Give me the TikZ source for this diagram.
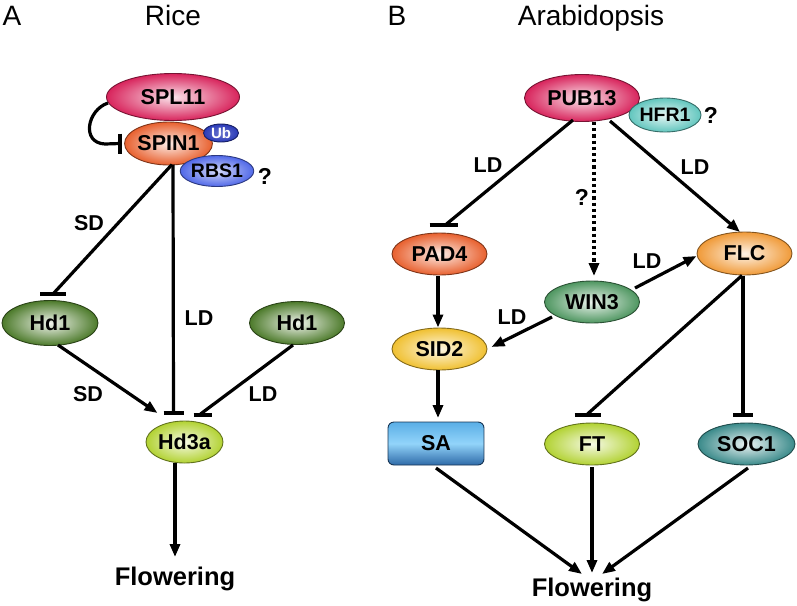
\documentclass[tikz,border=0pt]{standalone}
\usepackage{fontspec}
\setmainfont{Liberation Sans}
\usetikzlibrary{shapes.geometric,arrows.meta,calc}
\definecolor{cSPL}{HTML}{D8245C}
\definecolor{cSPIN}{HTML}{E8602E}
\definecolor{cUb}{HTML}{2A3AB8}
\definecolor{cRBS}{HTML}{5068E8}
\definecolor{cHd}{HTML}{4C7A2A}
\definecolor{cHda}{HTML}{B2D232}
\definecolor{cHFR}{HTML}{62C6BE}
\definecolor{cWIN}{HTML}{4E9660}
\definecolor{cSID}{HTML}{F0C030}
\definecolor{cFLC}{HTML}{F09A38}
\definecolor{cSOC}{HTML}{3A8A8A}
\definecolor{cSAt}{HTML}{5AAEE6}
\definecolor{cSAm}{HTML}{92D4FA}
\definecolor{cSAb}{HTML}{2E6AA8}
\begin{document}
\begin{tikzpicture}[x=1pt,y=-1pt,
  gene/.style={ellipse, draw=#1!55!black, line width=0.9pt, inner sep=0pt,
    inner color=#1!12!white, outer color=#1,
    font=\fontsize{21.5}{24}\selectfont\bfseries},
  conn/.style={line width=3.2pt},
  arr/.style={conn, -{Triangle[length=13pt,width=10pt]}},
  barln/.style={line width=4pt},
  dotln/.style={line width=3.2pt, dash pattern=on 3.2pt off 3pt, -{Triangle[length=13pt,width=10pt]}},
  lbl/.style={font=\fontsize{21.5}{24}\selectfont\bfseries, inner sep=0pt},
  qm/.style={font=\fontsize{23}{24}\selectfont\bfseries, inner sep=0pt},
  ttl/.style={font=\fontsize{28}{30}\selectfont, inner sep=0pt, anchor=base},
  flw/.style={font=\fontsize{25.5}{28}\selectfont\bfseries, inner sep=0pt}
]
\useasboundingbox (0,0) rectangle (797,605);

% ---------- titles
\node[ttl] (tA) at (12,25) {A};
\node[ttl] (tRice) at (173,25) {Rice};
\node[ttl] (tB) at (397,25) {B};
\node[ttl] (tAra) at (591,25) {Arabidopsis};

% ---------- panel A nodes
\node[gene=cSPL, minimum width=133pt, minimum height=47pt] (spl11) at (173,97) {SPL11};
\node[gene=cSPIN, minimum width=87pt, minimum height=43pt] (spin1) at (168.5,143.5) {SPIN1};
\node[gene=cUb, minimum width=35pt, minimum height=18pt, inner color=cUb!70!white,
      font=\fontsize{15}{16}\selectfont\bfseries, text=white] (ub) at (221,133) {Ub};
\node[gene=cRBS, minimum width=71pt, minimum height=31pt, inner color=cRBS!25!white,
      font=\fontsize{19.5}{22}\selectfont\bfseries] (rbs1) at (217,171) {RBS1};
\node[qm] (qA) at (265,176) {?};
\node[gene=cHd, minimum width=96pt, minimum height=45pt, inner color=cHd!8!white] (hd1l) at (50,323) {Hd1};
\node[gene=cHd, minimum width=95pt, minimum height=43pt, inner color=cHd!8!white] (hd1r) at (297,323) {Hd1};
\node[gene=cHda, minimum width=77pt, minimum height=42pt] (hd3a) at (184.5,442) {Hd3a};
\node[flw] (flA) at (175,579) {Flowering};

% self inhibition of SPIN1 by SPL11
\coordinate (bs) at ($(spin1)+(-48.5,0)$);
\draw[conn] ($(spl11)+(-65,6)$) .. controls ($(spl11)+(-86,13)$) and ($(spl11)+(-92,46)$) .. ($(spl11)+(-68,47)$) -- (bs);
\draw[barln] ($(bs)+(0,-10)$) -- ($(bs)+(0,10)$);

% SPIN1 -| Hd1 (SD)
\coordinate (b1) at ($(hd1l)+(3,-29)$);
\draw[conn] ($(spin1)+(3.5,21)$) -- (b1);
\draw[barln] ($(b1)+(-13,0)$) -- ($(b1)+(13,0)$);
\node[lbl] (sd1) at (89,223) {SD};

% SPIN1 -| Hd3a (LD)
\coordinate (b2) at ($(hd3a)+(-11,-29)$);
\draw[conn] ($(spin1)+(4.5,21)$) -- (b2);
\draw[barln] ($(b2)+(-10,0)$) -- ($(b2)+(10,0)$);
\node[lbl] (ld1) at (199,318) {LD};

% Hd1 -> Hd3a (SD)
\draw[arr] ($(hd1l)+(8,22)$) -- ($(hd3a)+(-27,-29)$);
\node[lbl] (sd2) at (88,394) {SD};

% Hd1 -| Hd3a (LD)
\coordinate (b3) at ($(hd3a)+(18,-27)$);
\draw[conn] ($(hd1r)+(-4,22)$) -- ($(b3)+(-2,-1)$);
\draw[barln] ($(b3)+(-9,0)$) -- ($(b3)+(9,0)$);
\node[lbl] (ld2) at (263,394) {LD};

% Hd3a -> Flowering
\draw[arr] ($(hd3a)+(-9.5,21)$) -- ($(flA)+(0,-22)$);

% ---------- panel B nodes
\node[gene=cSPL, minimum width=115pt, minimum height=47pt] (pub13) at (582,98) {PUB13};
\node[gene=cHFR, minimum width=72pt, minimum height=34pt, inner color=cHFR!15!white,
      font=\fontsize{19.5}{22}\selectfont\bfseries] (hfr1) at (665,115) {HFR1};
\node[qm] (qB) at (711,115) {?};
\node[gene=cSPIN, minimum width=95pt, minimum height=42pt] (pad4) at (439.5,254) {PAD4};
\node[gene=cWIN, minimum width=95pt, minimum height=42pt, inner color=cWIN!10!white] (win3) at (592,302) {WIN3};
\node[gene=cFLC, minimum width=95pt, minimum height=43pt] (flc) at (744.5,253.5) {FLC};
\node[gene=cSID, minimum width=95pt, minimum height=42pt] (sid2) at (439.5,349) {SID2};
\node[rounded corners=6pt, draw=cSAb!50!black, line width=0.9pt, minimum width=96pt, minimum height=43pt,
      top color=cSAt, bottom color=cSAb, middle color=cSAm,
      font=\fontsize{21.5}{24}\selectfont\bfseries, inner sep=0pt] (sa) at (436,443.5) {SA};
\node[gene=cHda, minimum width=95pt, minimum height=42pt] (ft) at (592,444) {FT};
\node[gene=cSOC, minimum width=97pt, minimum height=42pt, inner color=cSOC!10!white] (soc1) at (746.5,444) {SOC1};
\node[flw] (flB) at (592,590) {Flowering};

% PUB13 -| PAD4
\coordinate (b4) at ($(pad4)+(4,-29)$);
\draw[conn] ($(pub13)+(-9,22)$) -- ($(b4)+(3,-1)$);
\draw[barln] ($(b4)+(-14,0)$) -- ($(b4)+(14,0)$);
\node[lbl] (ld3) at (488,165) {LD};

% PUB13 ..> WIN3
\draw[dotln] ($(pub13)+(12,24)$) -- ($(win3)+(2,-26)$);
\node[qm] (qC) at (582,197) {?};

% PUB13 -> FLC
\draw[arr] ($(pub13)+(28,23)$) -- ($(flc)+(-4.5,-21.5)$);
\node[lbl] (ld4) at (695,167) {LD};

% PAD4 -> SID2
\draw[arr] ($(pad4)+(-1.5,22)$) -- ($(sid2)+(-1.5,-21.5)$);

% WIN3 -> SID2
\draw[arr] ($(win3)+(-40,15)$) -- ($(sid2)+(52,-2)$);
\node[lbl] (ld5) at (512,317) {LD};

% WIN3 -> FLC
\draw[arr] ($(win3)+(43,-14)$) -- ($(flc)+(-48,2.5)$);
\node[lbl] (ld6) at (647,261) {LD};

% FLC -| FT
\coordinate (b5) at ($(ft)+(-4.5,-29)$);
\draw[conn] ($(flc)+(-2.5,22)$) -- ($(b5)+(0,-1)$);
\draw[barln] ($(b5)+(-13,0)$) -- ($(b5)+(13,0)$);

% FLC -| SOC1
\coordinate (b6) at ($(soc1)+(-3.5,-29)$);
\draw[conn] ($(flc)+(-1.5,22)$) -- (b6);
\draw[barln] ($(b6)+(-10,0)$) -- ($(b6)+(10,0)$);

% SID2 -> SA
\draw[arr] ($(sid2)+(-1.5,21)$) -- ($(sa)+(2,-25.5)$);

% SA, FT, SOC1 -> Flowering
\draw[arr] ($(sa)+(0,24.5)$) -- ($(flB)+(-10,-16)$);
\draw[arr] ($(ft)+(0,23)$) -- ($(flB)+(0,-17)$);
\draw[arr] ($(soc1)+(1.5,24)$) -- ($(flB)+(10,-16)$);
\end{tikzpicture}
\end{document}
